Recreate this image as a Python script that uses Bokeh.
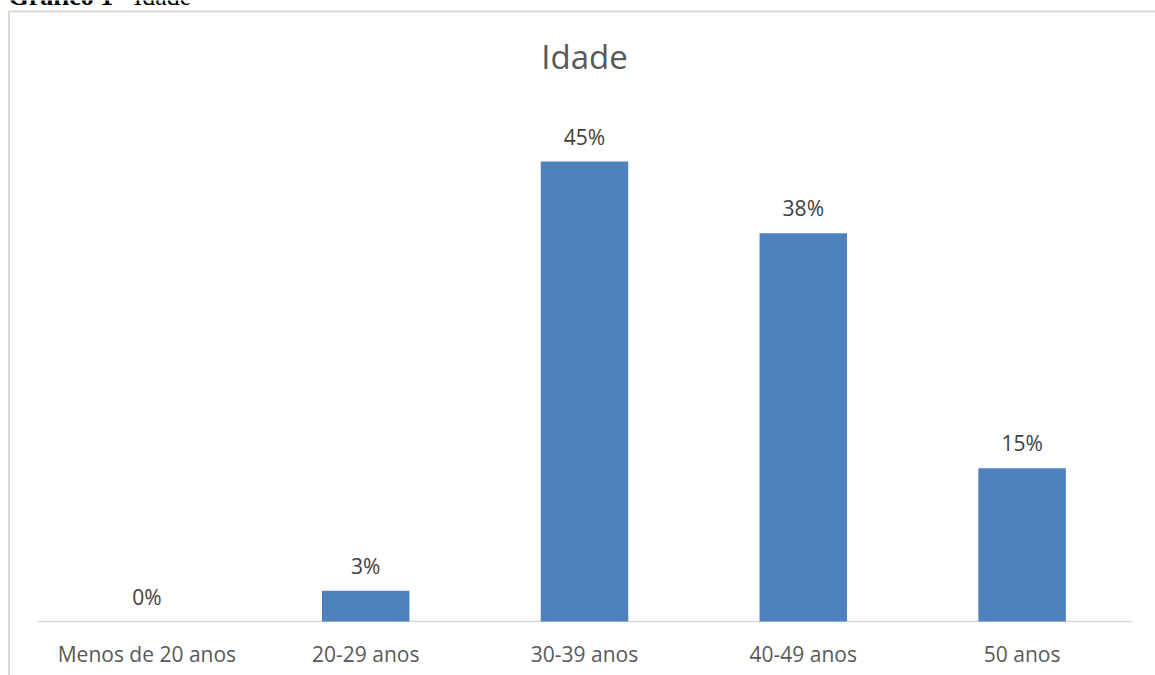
from bokeh.plotting import figure
from bokeh.models import ColumnDataSource, Range1d, Label, BoxAnnotation
from bokeh.core.properties import value
from bokeh.embed import file_html
from bokeh.resources import INLINE

categories = ["Menos de 20 anos", "20-29 anos", "30-39 anos", "40-49 anos", "50 anos"]
percent = [0, 3, 45, 38, 15]
labels = ["0%", "3%", "45%", "38%", "15%"]

W, H = 1155, 675
idx = list(range(len(categories)))
src = ColumnDataSource(dict(x=idx, cat=categories, val=percent, lab=labels,
                            zero=[0] * len(categories)))

# layout geometry (canvas pixels): category slots span 37..1131, value 0 at y=621, 50% at y=110
PX_L, PX_R, Y0, Y50 = 37, 1131, 621, 110
slot = (PX_R - PX_L) / len(categories)
x_start = -0.5 - PX_L / slot
x_end = x_start + W / slot
ppu = (Y0 - Y50) / 50.0
y_end = Y0 / ppu
y_start = -(H - Y0) / ppu

p = figure(width=W, height=H, x_range=Range1d(x_start, x_end), y_range=Range1d(y_start, y_end),
           output_backend="svg", toolbar_location=None, title=None,
           min_border=0, min_border_left=0, min_border_right=0, min_border_top=0, min_border_bottom=0)
p.outline_line_color = None
p.grid.grid_line_color = None
p.xaxis.visible = False
p.yaxis.visible = False
p.background_fill_color = "white"
p.border_fill_color = "white"

# category axis line
p.segment(x0=[-0.5], x1=[len(categories) - 0.5], y0=[0], y1=[0], line_color="#d9d9d9", line_width=1.5)

p.vbar(x="x", top="val", width=0.4, source=src, fill_color="#4f81bd", line_color=None)
p.text(x="x", y="val", text="lab", source=src, text_align="center", text_baseline="middle",
       y_offset=-25, text_font=value("Open Sans"), text_font_size="21px", text_color="#404040")
p.text(x="x", y="zero", text="cat", source=src, text_align="center", text_baseline="middle",
       y_offset=32, text_font=value("Open Sans"), text_font_size="21px", text_color="#595959")

border = BoxAnnotation(left=8.5, right=W + 50, top=H - 11, bottom=-50,
                       left_units="screen", right_units="screen", top_units="screen", bottom_units="screen",
                       fill_alpha=0, fill_color=None, line_color="#d9d9d9", line_alpha=1.0, line_width=2)
p.add_layout(border)

title = Label(x=584, y=H - 56, x_units="screen", y_units="screen", text="Idade",
              text_font="Open Sans", text_font_size="33px", text_color="#595959",
              text_align="center", text_baseline="middle")
p.add_layout(title)

hdr1 = Label(x=8, y=H + 4, x_units="screen", y_units="screen", text="Gráfico 1",
             text_font="Liberation Serif", text_font_style="bold", text_font_size="26px",
             text_color="black", text_baseline="alphabetic")
hdr2 = Label(x=133, y=H + 4, x_units="screen", y_units="screen", text="Idade",
             text_font="Liberation Serif", text_font_size="26px",
             text_color="black", text_baseline="alphabetic")
p.add_layout(hdr1)
p.add_layout(hdr2)

open("out.html", "w").write(file_html(p, INLINE))
